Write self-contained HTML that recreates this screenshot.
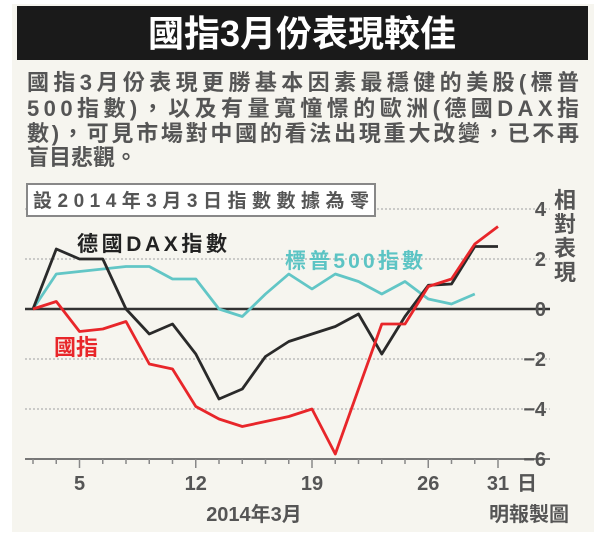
<!DOCTYPE html>
<html><head><meta charset="utf-8"><style>
body{margin:0;background:#fff}
svg{display:block}
text{font-family:"Liberation Sans","Noto Sans CJK TC",sans-serif;font-weight:bold}
</style></head><body>
<svg id="c" width="604" height="540" viewBox="0 0 604 540">
<rect x="12" y="4" width="582" height="528" fill="#f6f5ef"/>
<rect x="17" y="6" width="571" height="54" fill="#1a1a1a"/>
<text x="302" y="46" text-anchor="middle" font-size="36" fill="#fff">國指3月份表現較佳</text>
<g fill="#555" font-size="22">
<text x="27" y="90" textLength="552" lengthAdjust="spacing">國指3月份表現更勝基本因素最穩健的美股(標普</text>
<text x="27" y="116" textLength="552" lengthAdjust="spacing">500指數)，以及有量寬憧憬的歐洲(德國DAX指</text>
<text x="27" y="141" textLength="552" lengthAdjust="spacing">數)，可見市場對中國的看法出現重大改變，已不再</text>
<text x="27" y="165">盲目悲觀。</text>
</g>
<g id="grid"></g>
<rect x="27" y="184" width="348" height="32" fill="#fff" stroke="#888" stroke-width="2"/>
<text x="33" y="207" font-size="19" fill="#555" textLength="336" lengthAdjust="spacing">設2014年3月3日指數數據為零</text>
<g fill="#555" font-size="22">
<text x="565" y="208" text-anchor="middle">相</text>
<text x="565" y="232" text-anchor="middle">對</text>
<text x="565" y="256" text-anchor="middle">表</text>
<text x="565" y="280" text-anchor="middle">現</text>
</g>
<g id="series"></g>
<text x="77" y="251" font-size="21" fill="#222" textLength="150" lengthAdjust="spacing">德國DAX指數</text>
<text x="285" y="268" font-size="21" fill="#5cc4c4" textLength="138" lengthAdjust="spacing">標普500指數</text>
<text x="54" y="355" font-size="22" fill="#e8262a">國指</text>
<text x="254" y="521" text-anchor="middle" font-size="20" fill="#555">2014年3月</text>
<text x="529" y="521" text-anchor="middle" font-size="20" fill="#555">明報製圖</text>
<text x="527" y="490" text-anchor="middle" font-size="20" fill="#555">日</text>
</svg>
<script>
const days = [3,4,5,6,7,10,11,12,13,14,17,18,19,20,21,24,25,26,27,28,31];
const hsce = [0,0.3,-0.9,-0.8,-0.5,-2.2,-2.4,-3.9,-4.4,-4.7,-4.5,-4.3,-4.0,-5.8,-3.2,-0.6,-0.6,0.9,1.2,2.6,3.3];
const dax = [0,2.4,2.0,2.0,0,-1.0,-0.6,-1.8,-3.6,-3.2,-1.9,-1.3,-1.0,-0.7,-0.2,-1.8,-0.3,0.95,1.0,2.5,2.5];
const sp500 = [0,1.4,1.5,1.6,1.7,1.7,1.2,1.2,0,-0.3,0.6,1.4,0.8,1.4,1.1,0.6,1.1,0.4,0.2,0.6];
const yTicks = [4,2,0,-2,-4,-6];
const xLabels = [5,12,19,26,31];
const NS='http://www.w3.org/2000/svg';
function xs(i){return 33+i*23.25;}
function ys(v){return 309-v*25;}
function mk(tag,attrs,parent){const e=document.createElementNS(NS,tag);for(const k in attrs)e.setAttribute(k,attrs[k]);parent.appendChild(e);return e;}
const grid=document.getElementById('grid');
yTicks.forEach(v=>{
  let l;
  if(v===0){l=mk('line',{x1:25,x2:550,y1:ys(v),y2:ys(v),stroke:'#333','stroke-width':2.5},grid);}
  else if(v===-6){l=mk('line',{x1:25,x2:550,y1:ys(v),y2:ys(v),stroke:'#777','stroke-width':2},grid);}
  else{l=mk('line',{x1:25,x2:550,y1:ys(v),y2:ys(v),stroke:'#bbb','stroke-width':1.5,'stroke-dasharray':'2,2'},grid);}
  
  
  const t=mk('text',{x:546,y:ys(v)+7,'text-anchor':'end','font-size':20,fill:'#555'},grid);
  t.textContent=v<0?'−'+Math.abs(v):String(v);
  
  
});
days.forEach((d,i)=>{
  const major=xLabels.includes(d);
  const tk=mk('line',{x1:xs(i),x2:xs(i),y1:ys(-6),y2:ys(-6)+(major?9:5),stroke:'#888','stroke-width':1.5},grid);
  
  
  if(major){
    const t=mk('text',{x:xs(i),y:490,'text-anchor':'middle','font-size':20,fill:'#555'},grid);
    t.textContent=String(d);
    
    
  }
});
const ser=document.getElementById('series');
function line(vals,color,name){
  const p=vals.map((v,i)=>(i?'L':'M')+xs(i).toFixed(1)+','+ys(v).toFixed(1)).join('');
  const e=mk('path',{d:p,fill:'none',stroke:color,'stroke-width':2.8,'stroke-linejoin':'round'},ser);
  
  
}
line(sp500,'#62c6c6','line-sp500');
line(dax,'#2a2a2a','line-dax');
line(hsce,'#e8262a','line-hsce');
</script>
</body></html>
